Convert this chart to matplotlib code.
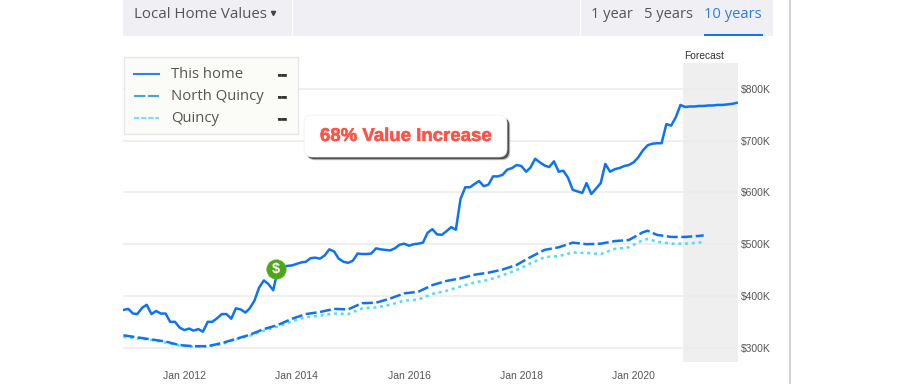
import matplotlib
matplotlib.use("Agg")
import matplotlib.pyplot as plt
import matplotlib.patheffects as pe
import pandas as pd
from matplotlib.patches import FancyBboxPatch, Rectangle

# monthly from Dec 2010, $K
home_values = [373, 375, 366, 365, 377, 383, 365, 371, 366, 366, 350, 350, 339, 334, 337, 333, 336, 331,
               350, 350, 357, 365, 365, 356, 376, 374, 368, 376, 391, 416, 430, 423, 411, 452, 457, 458,
               459, 462, 465, 466, 473, 474, 472, 478, 490, 486, 472, 466, 464, 468, 482, 481, 481, 482,
               492, 490, 489, 488, 492, 499, 501, 497, 500, 501, 503, 522, 529, 519, 518, 525, 533, 528,
               587, 610, 610, 616, 622, 612, 615, 631, 631, 634, 644, 647, 653, 651, 640, 648, 665,
               658, 652, 649, 660, 640, 642, 628, 605, 602, 599, 618, 597, 607, 618, 655, 640, 645, 647,
               651, 653, 658, 668, 681, 691, 694, 695, 695, 732, 729, 745, 769]
forecast_values = [765, 766, 766, 767, 767, 768, 768, 769, 769, 770, 771, 773]

# the area series were read every third month, plus the 2020 peak
area_months = list(range(0, 112, 3)) + [112, 114, 117, 120, 123, 124]
north_quincy = [324, 320, 316, 312, 305, 303, 303, 309, 317, 325, 336, 344, 356, 365,
                369, 375, 374, 386, 387, 395, 405, 408, 421, 429, 434, 441, 445,
                451, 460, 475, 489, 494, 503, 500, 501, 506, 508, 523,
                526, 518, 514, 514, 516, 517]
quincy = [321, 318, 315, 310, 304, 302, 302, 307, 316, 323, 333, 341, 351, 359,
          362, 366, 365, 376, 378, 383, 391, 393, 404, 410, 418, 426, 431,
          440, 450, 463, 475, 477, 484, 483, 481, 491, 494, 508,
          510, 505, 501, 501, 503, 504]

y_ticks = [300, 400, 500, 600, 700, 800]
y_labels = ["$300K", "$400K", "$500K", "$600K", "$700K", "$800K"]
x_ticks = ["2012-01-01", "2014-01-01", "2016-01-01", "2018-01-01", "2020-01-01"]
x_labels = ["Jan 2012", "Jan 2014", "Jan 2016", "Jan 2018", "Jan 2020"]
legend_names = ["This home", "North Quincy", "Quincy"]
sale_date = "2013-08-20"
sale_value = 453

BLUE = "#0f73f0"
CYAN = "#4fdcf7"
W, H = 900, 384

all_months = pd.date_range("2010-12-01", periods=len(home_values) + len(forecast_values), freq="MS")
area_dates = all_months[area_months]

fig = plt.figure(figsize=(W / 100, H / 100), dpi=100, facecolor="white")
ax = fig.add_axes([123 / W, (H - 361.7) / H, 615 / W, (361.7 - 63) / H])
ax.set_xlim(pd.Timestamp("2010-11-28"), pd.Timestamp("2021-11-10"))
ax.set_ylim(273, 850)
for s in ax.spines.values():
    s.set_visible(False)
ax.axvspan(pd.Timestamp("2020-11-20"), pd.Timestamp("2021-11-10"), color="#efefef", lw=0, zorder=0)
ax.grid(axis="y", color="#ececec", lw=1.2, zorder=1)
ax.set_axisbelow(True)

ax.plot(all_months, home_values + forecast_values, color=BLUE, lw=1.8, zorder=4)
ax.plot(area_dates, quincy, color=CYAN, lw=1.8, dashes=(1.2, 1.5), zorder=3)
ax.plot(area_dates, north_quincy, color=BLUE, lw=1.8, dashes=(4.4, 1.4), zorder=4)

ax.scatter([pd.Timestamp(sale_date)], [sale_value], s=195, color="#4ca816", edgecolor="#5cb82a", lw=0.5, zorder=6)
ax.text(pd.Timestamp(sale_date), sale_value, "$", color="white", fontsize=10.5, fontweight="bold",
        family="Liberation Sans", ha="center", va="center", zorder=7)

ax.yaxis.tick_right()
ax.set_yticks(y_ticks)
ax.set_yticklabels(y_labels, family="Liberation Sans", fontsize=7.5, color="#555555")
ax.set_xticks(pd.to_datetime(x_ticks))
ax.set_xticklabels(x_labels, family="Liberation Sans", fontsize=7.5, color="#555555")
ax.tick_params(axis="both", length=0)
ax.tick_params(axis="y", pad=2.2)
ax.tick_params(axis="x", pad=6.6)

# page furniture in pixel coordinates
ui = fig.add_axes([0, 0, 1, 1], facecolor="none")
ui.set_xlim(0, W)
ui.set_ylim(H, 0)
ui.axis("off")

ui.add_patch(Rectangle((123, 0), 650, 36, color="#efeff4", lw=0))
ui.add_patch(Rectangle((292, 0), 1, 36, color="white", lw=0))
ui.add_patch(Rectangle((580, 0), 1, 36, color="white", lw=0))
ui.add_patch(Rectangle((789, 0), 2, H, color="#d2d2d2", lw=0))
ui.add_patch(Rectangle((704, 34), 59, 2, color=BLUE, lw=0))
ui.text(134, 14, "Local Home Values", family="Open Sans", fontsize=10.8, color="#555555", va="center")
ui.plot([273], [12.5], marker="v", ms=3, color="#444444", ls="none")
ui.text(591, 14, "1 year", family="Open Sans", fontsize=10.5, color="#555555", va="center")
ui.text(644, 14, "5 years", family="Open Sans", fontsize=10.5, color="#555555", va="center")
ui.text(704, 14, "10 years", family="Open Sans", fontsize=10.6, color="#2b7de9", va="center")
ui.text(684, 56, "Forecast", family="Liberation Sans", fontsize=7.4, color="#333333", va="center")

# legend
ui.add_patch(Rectangle((123.5, 56.5), 174, 77, facecolor="#fbfbf8", edgecolor="#e6e6e6", lw=1, alpha=0.92))
rows = [73.5, 95.5, 117.5]
styles = [dict(color="#2a84ee"), dict(color="#4a9bf2", dashes=(5.5, 1.2)), dict(color="#72e2f0", dashes=(2.6, 0.8))]
for name, y, st in zip(legend_names, rows, styles):
    ui.plot([134, 159], [y, y], lw=1.5, **st)
    ui.text(171, y + 1, name, family="Open Sans", fontsize=10.7, color="#555555", va="center")
    ui.text(277, y + 1, "--", family="Liberation Sans", fontsize=10, fontweight="bold", color="#333333", va="center",
            path_effects=[pe.withStroke(linewidth=0.5, foreground="#333333")])

# callout
box = dict(boxstyle="round,pad=0,rounding_size=8", mutation_scale=1)
for off, col, a in [(3.2, "#555555", 0.35), (2.2, "#333333", 0.8)]:
    ui.add_patch(FancyBboxPatch((304 + off, 115 + off), 203, 42, facecolor=col, edgecolor="none", alpha=a, **box))
ui.add_patch(FancyBboxPatch((304, 115), 203, 42, facecolor="white", edgecolor="#eeeeee", lw=0.5, **box))
ui.text(405.5, 136.5, "68% Value Increase", family="Liberation Sans", fontsize=13.4, fontweight="bold",
        color="#ff5247", ha="center", va="center",
        path_effects=[pe.withStroke(linewidth=0.35, foreground="#ff5247")])

fig.savefig("out.png", dpi=100, facecolor="white")
